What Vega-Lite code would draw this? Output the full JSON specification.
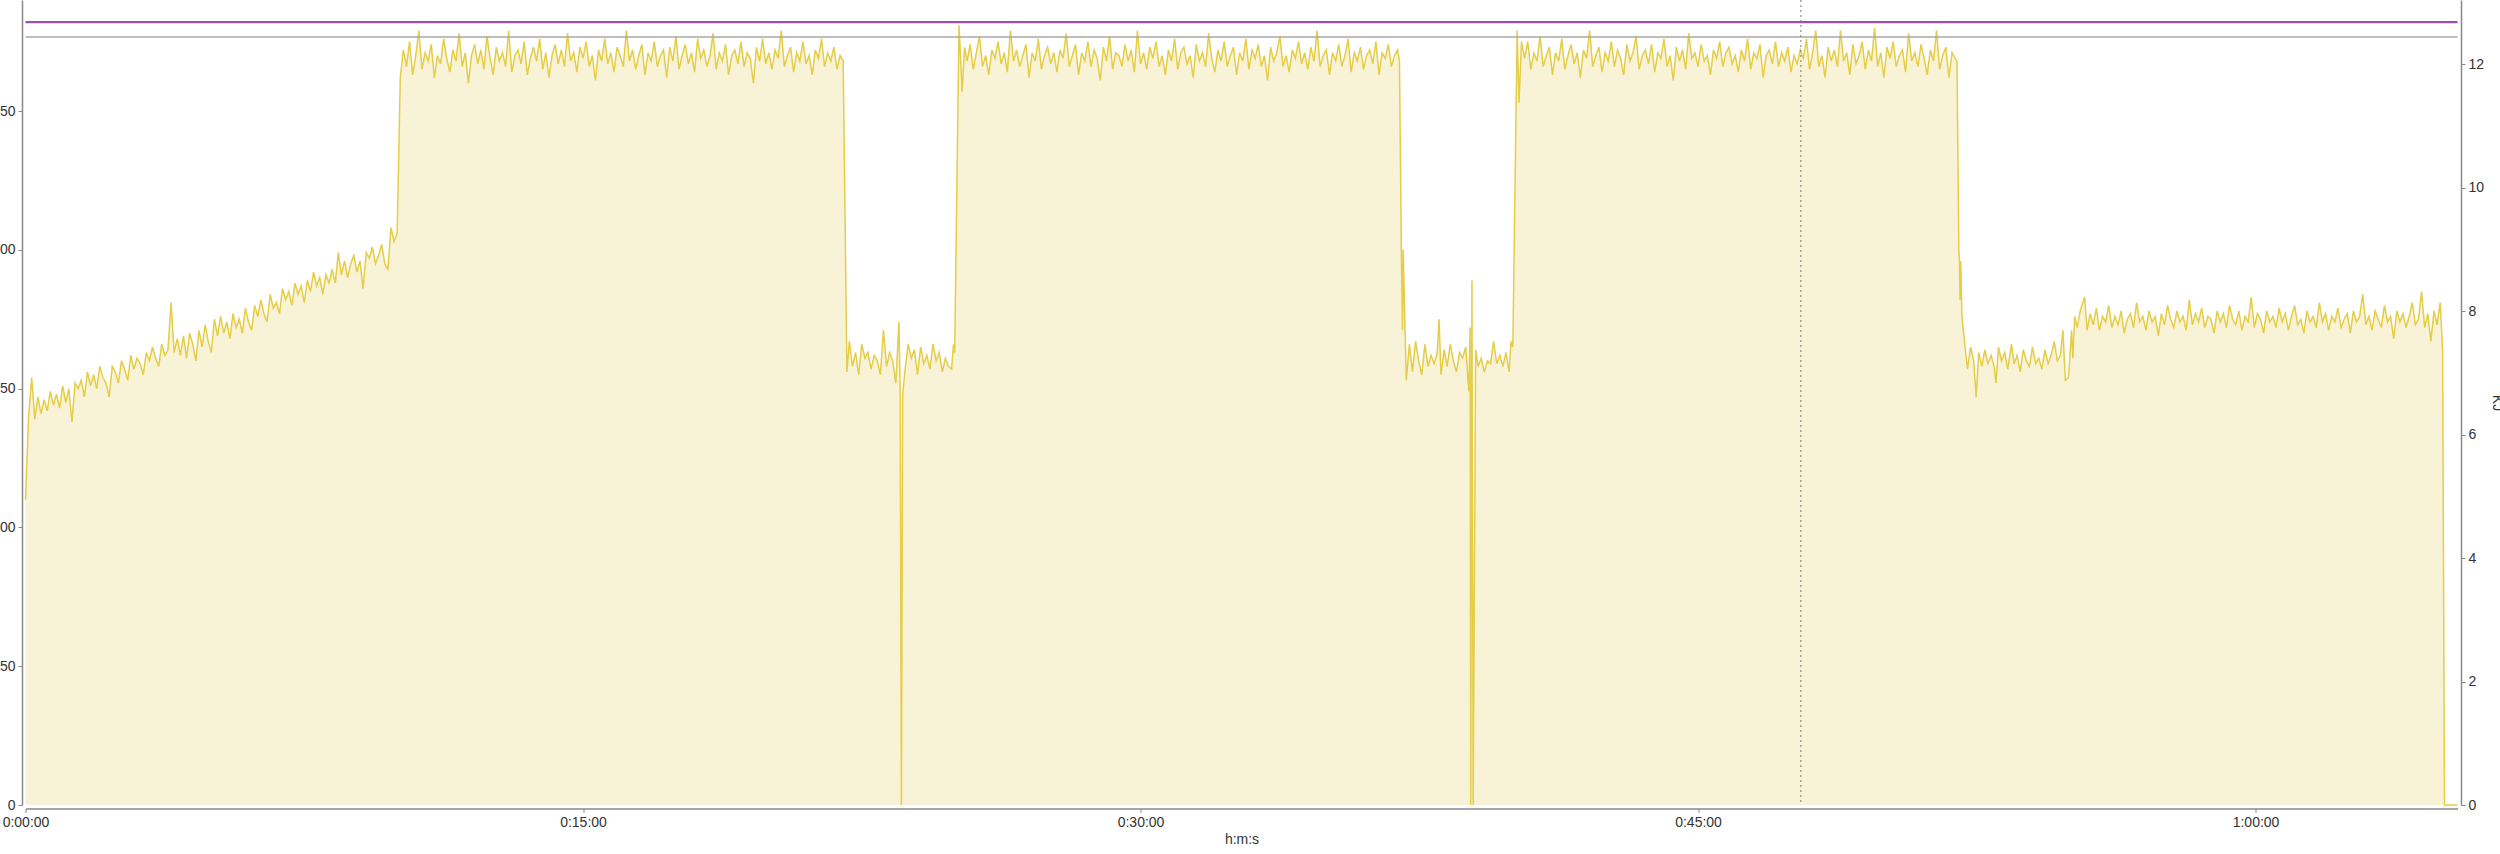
{
"$schema":"https://vega.github.io/schema/vega-lite/v6.json",
"autosize":{"type":"none"},
"width":2432,"height":805,
"padding":{"left":25.5,"top":0,"right":42.5,"bottom":49},
"background":"white",
"config":{"view":{"stroke":null},"font":"Liberation Sans","axis":{"labelFont":"Liberation Sans","titleFont":"Liberation Sans","labelFontSize":14,"titleFontSize":14,"titleFontWeight":"normal","labelColor":"#333","titleColor":"#333","domainColor":"#888","domainWidth":1.5,"tickColor":"#888","tickSize":4,"grid":false,"labelFlush":false}},
"datasets":{
"pw":[
{"t":0,"w":110},{"t":5,"w":140},{"t":10,"w":154},{"t":15,"w":139},{"t":20,"w":147},{"t":25,"w":141},{"t":30,"w":146},{"t":35,"w":142},{"t":40,"w":149},{"t":45,"w":144},
{"t":50,"w":148},{"t":55,"w":143},{"t":60,"w":151},{"t":65,"w":145},{"t":70,"w":150},{"t":75,"w":138},{"t":80,"w":152},{"t":85,"w":150},{"t":90,"w":153},{"t":95,"w":147},
{"t":100,"w":156},{"t":105,"w":151},{"t":110,"w":155},{"t":115,"w":150},{"t":120,"w":158},{"t":125,"w":154},{"t":130,"w":152},{"t":135,"w":147},{"t":140,"w":158},{"t":145,"w":156},
{"t":150,"w":152},{"t":155,"w":160},{"t":160,"w":157},{"t":165,"w":153},{"t":170,"w":162},{"t":175,"w":157},{"t":180,"w":161},{"t":185,"w":159},{"t":190,"w":155},{"t":195,"w":163},
{"t":200,"w":160},{"t":205,"w":165},{"t":210,"w":161},{"t":215,"w":158},{"t":220,"w":166},{"t":225,"w":162},{"t":230,"w":164},{"t":235,"w":181},{"t":240,"w":163},{"t":245,"w":168},
{"t":250,"w":162},{"t":255,"w":169},{"t":260,"w":161},{"t":265,"w":170},{"t":270,"w":166},{"t":275,"w":160},{"t":280,"w":171},{"t":285,"w":165},{"t":290,"w":173},{"t":295,"w":167},
{"t":300,"w":163},{"t":305,"w":175},{"t":310,"w":169},{"t":315,"w":176},{"t":320,"w":170},{"t":325,"w":174},{"t":330,"w":168},{"t":335,"w":177},{"t":340,"w":172},{"t":345,"w":175},
{"t":350,"w":170},{"t":355,"w":179},{"t":360,"w":174},{"t":365,"w":171},{"t":370,"w":180},{"t":375,"w":176},{"t":380,"w":182},{"t":385,"w":177},{"t":390,"w":174},{"t":395,"w":184},
{"t":400,"w":179},{"t":405,"w":181},{"t":410,"w":177},{"t":415,"w":186},{"t":420,"w":182},{"t":425,"w":185},{"t":430,"w":180},{"t":435,"w":188},{"t":440,"w":184},{"t":445,"w":187},
{"t":450,"w":181},{"t":455,"w":189},{"t":460,"w":185},{"t":465,"w":192},{"t":470,"w":187},{"t":475,"w":190},{"t":480,"w":184},{"t":485,"w":191},{"t":490,"w":188},{"t":495,"w":193},
{"t":500,"w":188},{"t":505,"w":199},{"t":510,"w":191},{"t":515,"w":196},{"t":520,"w":190},{"t":525,"w":195},{"t":530,"w":198},{"t":535,"w":192},{"t":540,"w":196},{"t":545,"w":186},
{"t":550,"w":199},{"t":555,"w":197},{"t":560,"w":201},{"t":565,"w":195},{"t":570,"w":198},{"t":575,"w":202},{"t":580,"w":195},{"t":585,"w":193},{"t":590,"w":208},{"t":595,"w":203},
{"t":600,"w":206},{"t":605,"w":262},
{"t":610,"w":272},{"t":615,"w":266},{"t":620,"w":275},{"t":625,"w":263},{"t":630,"w":270},{"t":635,"w":279},{"t":640,"w":265},{"t":645,"w":271},{"t":650,"w":268},{"t":655,"w":274},
{"t":660,"w":262},{"t":665,"w":270},{"t":670,"w":267},{"t":675,"w":276},{"t":680,"w":269},{"t":685,"w":264},{"t":690,"w":272},{"t":695,"w":268},{"t":700,"w":278},{"t":705,"w":266},
{"t":710,"w":271},{"t":715,"w":260},{"t":720,"w":270},{"t":725,"w":274},{"t":730,"w":267},{"t":735,"w":272},{"t":740,"w":265},{"t":745,"w":277},{"t":750,"w":269},{"t":755,"w":263},
{"t":760,"w":273},{"t":765,"w":268},{"t":770,"w":271},{"t":775,"w":266},{"t":780,"w":279},{"t":785,"w":264},{"t":790,"w":270},{"t":795,"w":272},{"t":800,"w":267},{"t":805,"w":275},
{"t":810,"w":263},{"t":815,"w":269},{"t":820,"w":273},{"t":825,"w":268},{"t":830,"w":276},{"t":835,"w":265},{"t":840,"w":271},{"t":845,"w":262},{"t":850,"w":270},{"t":855,"w":274},
{"t":860,"w":267},{"t":865,"w":272},{"t":870,"w":266},{"t":875,"w":278},{"t":880,"w":268},{"t":885,"w":271},{"t":890,"w":264},{"t":895,"w":273},{"t":900,"w":269},{"t":905,"w":275},
{"t":910,"w":266},{"t":915,"w":270},{"t":920,"w":261},{"t":925,"w":272},{"t":930,"w":268},{"t":935,"w":276},{"t":940,"w":267},{"t":945,"w":271},{"t":950,"w":264},{"t":955,"w":273},
{"t":960,"w":270},{"t":965,"w":266},{"t":970,"w":279},{"t":975,"w":268},{"t":980,"w":272},{"t":985,"w":265},{"t":990,"w":270},{"t":995,"w":274},{"t":1000,"w":263},{"t":1005,"w":271},
{"t":1010,"w":268},{"t":1015,"w":275},{"t":1020,"w":266},{"t":1025,"w":270},{"t":1030,"w":272},{"t":1035,"w":262},{"t":1040,"w":273},{"t":1045,"w":268},{"t":1050,"w":277},{"t":1055,"w":265},
{"t":1060,"w":270},{"t":1065,"w":274},{"t":1070,"w":267},{"t":1075,"w":271},{"t":1080,"w":264},{"t":1085,"w":276},{"t":1090,"w":269},{"t":1095,"w":272},{"t":1100,"w":266},{"t":1105,"w":270},
{"t":1110,"w":278},{"t":1115,"w":265},{"t":1120,"w":271},{"t":1125,"w":268},{"t":1130,"w":274},{"t":1135,"w":263},{"t":1140,"w":270},{"t":1145,"w":272},{"t":1150,"w":267},{"t":1155,"w":275},
{"t":1160,"w":266},{"t":1165,"w":271},{"t":1170,"w":269},{"t":1175,"w":260},{"t":1180,"w":273},{"t":1185,"w":268},{"t":1190,"w":276},{"t":1195,"w":267},{"t":1200,"w":271},{"t":1205,"w":265},
{"t":1210,"w":272},{"t":1215,"w":269},{"t":1220,"w":279},{"t":1225,"w":266},{"t":1230,"w":270},{"t":1235,"w":273},{"t":1240,"w":264},{"t":1245,"w":271},{"t":1250,"w":268},{"t":1255,"w":275},
{"t":1260,"w":267},{"t":1265,"w":270},{"t":1270,"w":263},{"t":1275,"w":272},{"t":1280,"w":269},{"t":1285,"w":276},{"t":1290,"w":266},{"t":1295,"w":271},{"t":1300,"w":268},{"t":1305,"w":273},
{"t":1310,"w":265},{"t":1315,"w":270},{"t":1320,"w":268},
{"t":1326,"w":156},{"t":1330,"w":167},{"t":1335,"w":158},{"t":1340,"w":163},{"t":1345,"w":155},{"t":1350,"w":166},{"t":1355,"w":161},{"t":1360,"w":163},{"t":1365,"w":157},{"t":1370,"w":162},
{"t":1375,"w":160},{"t":1380,"w":155},{"t":1385,"w":171},{"t":1390,"w":158},{"t":1395,"w":163},{"t":1400,"w":160},{"t":1405,"w":152},{"t":1410,"w":174},{"t":1412,"w":149},{"t":1414,"w":0},
{"t":1416,"w":148},{"t":1420,"w":157},{"t":1425,"w":166},{"t":1430,"w":161},{"t":1435,"w":164},{"t":1440,"w":155},{"t":1445,"w":165},{"t":1450,"w":159},{"t":1455,"w":162},{"t":1460,"w":157},
{"t":1465,"w":166},{"t":1470,"w":160},{"t":1475,"w":163},{"t":1480,"w":156},{"t":1485,"w":161},{"t":1490,"w":158},{"t":1495,"w":157},{"t":1498,"w":166},{"t":1500,"w":163},{"t":1507,"w":281},
{"t":1512,"w":257},{"t":1516,"w":273},
{"t":1520,"w":268},{"t":1525,"w":274},{"t":1530,"w":265},{"t":1535,"w":271},{"t":1540,"w":277},{"t":1545,"w":266},{"t":1550,"w":270},{"t":1555,"w":263},{"t":1560,"w":272},{"t":1565,"w":269},
{"t":1570,"w":275},{"t":1575,"w":267},{"t":1580,"w":271},{"t":1585,"w":264},{"t":1590,"w":279},{"t":1595,"w":268},{"t":1600,"w":272},{"t":1605,"w":266},{"t":1610,"w":270},{"t":1615,"w":274},
{"t":1620,"w":262},{"t":1625,"w":271},{"t":1630,"w":268},{"t":1635,"w":276},{"t":1640,"w":265},{"t":1645,"w":270},{"t":1650,"w":273},{"t":1655,"w":267},{"t":1660,"w":271},{"t":1665,"w":264},
{"t":1670,"w":272},{"t":1675,"w":269},{"t":1680,"w":278},{"t":1685,"w":266},{"t":1690,"w":270},{"t":1695,"w":274},{"t":1700,"w":263},{"t":1705,"w":271},{"t":1710,"w":268},{"t":1715,"w":275},
{"t":1720,"w":266},{"t":1725,"w":272},{"t":1730,"w":269},{"t":1735,"w":261},{"t":1740,"w":273},{"t":1745,"w":268},{"t":1750,"w":277},{"t":1755,"w":265},{"t":1760,"w":271},{"t":1765,"w":270},
{"t":1770,"w":266},{"t":1775,"w":274},{"t":1780,"w":268},{"t":1785,"w":272},{"t":1790,"w":264},{"t":1795,"w":279},{"t":1800,"w":267},{"t":1805,"w":271},{"t":1810,"w":265},{"t":1815,"w":273},
{"t":1820,"w":269},{"t":1825,"w":275},{"t":1830,"w":266},{"t":1835,"w":270},{"t":1840,"w":263},{"t":1845,"w":272},{"t":1850,"w":268},{"t":1855,"w":276},{"t":1860,"w":265},{"t":1865,"w":271},
{"t":1870,"w":273},{"t":1875,"w":267},{"t":1880,"w":270},{"t":1885,"w":262},{"t":1890,"w":274},{"t":1895,"w":268},{"t":1900,"w":271},{"t":1905,"w":266},{"t":1910,"w":278},{"t":1915,"w":269},
{"t":1920,"w":264},{"t":1925,"w":272},{"t":1930,"w":268},{"t":1935,"w":275},{"t":1940,"w":266},{"t":1945,"w":270},{"t":1950,"w":273},{"t":1955,"w":263},{"t":1960,"w":271},{"t":1965,"w":268},
{"t":1970,"w":276},{"t":1975,"w":265},{"t":1980,"w":272},{"t":1985,"w":269},{"t":1990,"w":274},{"t":1995,"w":266},{"t":2000,"w":270},{"t":2005,"w":261},{"t":2010,"w":273},{"t":2015,"w":268},
{"t":2020,"w":271},{"t":2025,"w":277},{"t":2030,"w":266},{"t":2035,"w":270},{"t":2040,"w":264},{"t":2045,"w":272},{"t":2050,"w":269},{"t":2055,"w":275},{"t":2060,"w":267},{"t":2065,"w":271},
{"t":2070,"w":265},{"t":2075,"w":273},{"t":2080,"w":268},{"t":2085,"w":279},{"t":2090,"w":266},{"t":2095,"w":270},{"t":2100,"w":272},{"t":2105,"w":263},{"t":2110,"w":271},{"t":2115,"w":268},
{"t":2120,"w":274},{"t":2125,"w":266},{"t":2130,"w":270},{"t":2135,"w":276},{"t":2140,"w":264},{"t":2145,"w":271},{"t":2150,"w":268},{"t":2155,"w":273},{"t":2160,"w":265},{"t":2165,"w":270},
{"t":2170,"w":272},{"t":2175,"w":267},{"t":2180,"w":275},{"t":2185,"w":263},{"t":2190,"w":271},{"t":2195,"w":269},{"t":2200,"w":274},{"t":2205,"w":266},{"t":2210,"w":270},{"t":2215,"w":272},
{"t":2218,"w":268},{"t":2221,"w":200},{"t":2223,"w":171},{"t":2224,"w":200},{"t":2229,"w":153},
{"t":2234,"w":166},{"t":2239,"w":156},{"t":2244,"w":167},{"t":2249,"w":160},{"t":2254,"w":155},{"t":2259,"w":166},{"t":2264,"w":158},{"t":2269,"w":162},{"t":2274,"w":159},{"t":2279,"w":163},
{"t":2282,"w":175},{"t":2285,"w":155},{"t":2290,"w":164},{"t":2295,"w":158},{"t":2300,"w":166},{"t":2305,"w":160},{"t":2310,"w":156},{"t":2315,"w":163},{"t":2320,"w":161},{"t":2325,"w":165},
{"t":2330,"w":149},{"t":2332,"w":172},{"t":2333,"w":0},{"t":2335,"w":189},{"t":2337,"w":0},{"t":2341,"w":164},{"t":2345,"w":158},{"t":2350,"w":161},{"t":2355,"w":156},{"t":2360,"w":160},
{"t":2365,"w":159},{"t":2370,"w":167},{"t":2375,"w":159},{"t":2380,"w":162},{"t":2385,"w":158},{"t":2390,"w":163},{"t":2395,"w":156},{"t":2398,"w":167},{"t":2401,"w":165},{"t":2408,"w":279},
{"t":2411,"w":253},{"t":2415,"w":275},
{"t":2420,"w":269},{"t":2425,"w":275},{"t":2430,"w":265},{"t":2435,"w":271},{"t":2440,"w":268},{"t":2445,"w":277},{"t":2450,"w":266},{"t":2455,"w":270},{"t":2460,"w":273},{"t":2465,"w":263},
{"t":2470,"w":271},{"t":2475,"w":268},{"t":2480,"w":276},{"t":2485,"w":265},{"t":2490,"w":270},{"t":2495,"w":274},{"t":2500,"w":267},{"t":2505,"w":271},{"t":2510,"w":262},{"t":2515,"w":272},
{"t":2520,"w":269},{"t":2525,"w":279},{"t":2530,"w":266},{"t":2535,"w":270},{"t":2540,"w":273},{"t":2545,"w":264},{"t":2550,"w":271},{"t":2555,"w":268},{"t":2560,"w":275},{"t":2565,"w":266},
{"t":2570,"w":272},{"t":2575,"w":269},{"t":2580,"w":263},{"t":2585,"w":274},{"t":2590,"w":268},{"t":2595,"w":271},{"t":2600,"w":277},{"t":2605,"w":265},{"t":2610,"w":270},{"t":2615,"w":272},
{"t":2620,"w":267},{"t":2625,"w":274},{"t":2630,"w":264},{"t":2635,"w":271},{"t":2640,"w":269},{"t":2645,"w":276},{"t":2650,"w":266},{"t":2655,"w":270},{"t":2660,"w":261},{"t":2665,"w":273},
{"t":2670,"w":268},{"t":2675,"w":272},{"t":2680,"w":265},{"t":2685,"w":278},{"t":2690,"w":269},{"t":2695,"w":271},{"t":2700,"w":266},{"t":2705,"w":274},{"t":2710,"w":268},{"t":2715,"w":270},
{"t":2720,"w":263},{"t":2725,"w":272},{"t":2730,"w":269},{"t":2735,"w":275},{"t":2740,"w":266},{"t":2745,"w":271},{"t":2750,"w":273},{"t":2755,"w":267},{"t":2760,"w":270},{"t":2765,"w":264},
{"t":2770,"w":272},{"t":2775,"w":268},{"t":2780,"w":276},{"t":2785,"w":265},{"t":2790,"w":271},{"t":2795,"w":269},{"t":2800,"w":274},{"t":2805,"w":262},{"t":2810,"w":270},{"t":2815,"w":272},
{"t":2820,"w":267},{"t":2825,"w":275},{"t":2830,"w":266},{"t":2835,"w":271},{"t":2840,"w":268},{"t":2845,"w":273},{"t":2850,"w":264},{"t":2855,"w":270},{"t":2860,"w":267},{"t":2865,"w":272},
{"t":2870,"w":269},{"t":2875,"w":276},{"t":2880,"w":265},{"t":2885,"w":271},{"t":2890,"w":279},{"t":2895,"w":266},{"t":2900,"w":270},{"t":2905,"w":262},{"t":2910,"w":273},{"t":2915,"w":268},
{"t":2920,"w":272},{"t":2925,"w":266},{"t":2930,"w":279},{"t":2935,"w":268},{"t":2940,"w":271},{"t":2945,"w":263},{"t":2950,"w":274},{"t":2955,"w":267},{"t":2960,"w":270},{"t":2965,"w":275},
{"t":2970,"w":265},{"t":2975,"w":272},{"t":2980,"w":268},{"t":2985,"w":280},{"t":2990,"w":266},{"t":2995,"w":271},{"t":3000,"w":262},{"t":3005,"w":273},{"t":3010,"w":269},{"t":3015,"w":275},
{"t":3020,"w":266},{"t":3025,"w":270},{"t":3030,"w":272},{"t":3035,"w":264},{"t":3040,"w":278},{"t":3045,"w":268},{"t":3050,"w":271},{"t":3055,"w":266},{"t":3060,"w":274},{"t":3065,"w":269},
{"t":3070,"w":263},{"t":3075,"w":272},{"t":3080,"w":268},{"t":3085,"w":279},{"t":3090,"w":265},{"t":3095,"w":270},{"t":3100,"w":273},{"t":3105,"w":262},{"t":3110,"w":271},{"t":3115,"w":269},
{"t":3118,"w":268},{"t":3121,"w":200},{"t":3122,"w":196},{"t":3123,"w":182},{"t":3124,"w":196},{"t":3126,"w":176},{"t":3131,"w":165},
{"t":3135,"w":157},{"t":3140,"w":165},{"t":3145,"w":160},{"t":3149,"w":147},{"t":3153,"w":163},{"t":3158,"w":158},{"t":3163,"w":164},{"t":3168,"w":159},{"t":3173,"w":162},{"t":3178,"w":158},
{"t":3181,"w":152},{"t":3185,"w":165},{"t":3190,"w":160},{"t":3195,"w":163},{"t":3200,"w":157},{"t":3206,"w":166},{"t":3210,"w":159},{"t":3215,"w":162},{"t":3220,"w":156},{"t":3225,"w":164},
{"t":3230,"w":160},{"t":3235,"w":158},{"t":3240,"w":165},{"t":3245,"w":159},{"t":3250,"w":161},{"t":3255,"w":157},{"t":3260,"w":164},{"t":3265,"w":159},{"t":3270,"w":162},{"t":3275,"w":167},
{"t":3280,"w":160},{"t":3285,"w":162},{"t":3289,"w":171},{"t":3293,"w":153},{"t":3298,"w":154},{"t":3303,"w":171},{"t":3305,"w":161},{"t":3308,"w":176},{"t":3312,"w":172},{"t":3317,"w":178},
{"t":3324,"w":183},{"t":3328,"w":171},
{"t":3333,"w":177},{"t":3338,"w":173},{"t":3343,"w":179},{"t":3348,"w":171},{"t":3353,"w":176},{"t":3358,"w":174},{"t":3363,"w":180},{"t":3368,"w":172},{"t":3373,"w":176},{"t":3378,"w":173},
{"t":3383,"w":178},{"t":3388,"w":170},{"t":3393,"w":175},{"t":3398,"w":177},{"t":3403,"w":172},{"t":3408,"w":181},{"t":3413,"w":174},{"t":3418,"w":176},{"t":3423,"w":171},{"t":3428,"w":178},
{"t":3433,"w":174},{"t":3438,"w":176},{"t":3443,"w":169},{"t":3448,"w":177},{"t":3453,"w":173},{"t":3458,"w":180},{"t":3463,"w":175},{"t":3468,"w":172},{"t":3473,"w":178},{"t":3478,"w":174},
{"t":3483,"w":176},{"t":3488,"w":171},{"t":3493,"w":182},{"t":3498,"w":173},{"t":3503,"w":177},{"t":3508,"w":174},{"t":3513,"w":179},{"t":3518,"w":172},{"t":3523,"w":176},{"t":3528,"w":175},
{"t":3533,"w":170},{"t":3538,"w":178},{"t":3543,"w":174},{"t":3548,"w":177},{"t":3553,"w":172},{"t":3558,"w":180},{"t":3563,"w":175},{"t":3568,"w":173},{"t":3573,"w":178},{"t":3578,"w":171},
{"t":3583,"w":176},{"t":3588,"w":174},{"t":3593,"w":183},{"t":3598,"w":172},{"t":3603,"w":177},{"t":3608,"w":175},{"t":3613,"w":170},{"t":3618,"w":178},{"t":3623,"w":174},{"t":3628,"w":176},
{"t":3633,"w":172},{"t":3638,"w":179},{"t":3643,"w":174},{"t":3648,"w":177},{"t":3653,"w":171},{"t":3658,"w":176},{"t":3663,"w":180},{"t":3668,"w":173},{"t":3673,"w":175},{"t":3678,"w":170},
{"t":3683,"w":178},{"t":3688,"w":174},{"t":3693,"w":176},{"t":3698,"w":172},{"t":3703,"w":181},{"t":3708,"w":174},{"t":3713,"w":177},{"t":3718,"w":171},{"t":3723,"w":176},{"t":3728,"w":174},
{"t":3733,"w":179},{"t":3738,"w":172},{"t":3743,"w":175},{"t":3748,"w":177},{"t":3753,"w":170},{"t":3758,"w":178},{"t":3763,"w":174},{"t":3768,"w":176},{"t":3773,"w":184},{"t":3778,"w":173},
{"t":3783,"w":176},{"t":3788,"w":171},{"t":3793,"w":178},{"t":3798,"w":175},{"t":3803,"w":172},{"t":3808,"w":180},{"t":3813,"w":174},{"t":3818,"w":176},{"t":3823,"w":168},{"t":3828,"w":178},
{"t":3833,"w":174},{"t":3838,"w":177},{"t":3843,"w":172},{"t":3848,"w":176},{"t":3853,"w":181},{"t":3858,"w":173},{"t":3863,"w":175},{"t":3868,"w":185},{"t":3873,"w":172},{"t":3878,"w":177},
{"t":3883,"w":167},{"t":3888,"w":178},{"t":3893,"w":173},{"t":3898,"w":181},{"t":3902,"w":164},{"t":3905,"w":0},{"t":3926,"w":0}
],
"hlines":[{"name":"upper","w":282},{"name":"lower","w":276.7}],
"marker":[{"t":2866}],
"kjaxis":[{"kj":0}]
},
"layer":[
{"layer":[
{"data":{"name":"pw"},
 "mark":{"type":"area","fill":"#f8f3d6","opacity":1,"line":{"color":"#e5cd48","strokeWidth":1.5}},
 "encoding":{
  "x":{"field":"t","type":"quantitative","scale":{"domain":[0,3926],"nice":false,"zero":false},
       "axis":{"title":"h:m:s","values":[0,900,1800,2700,3600],"offset":3.5,"labelPadding":3,"titlePadding":3,"labelFlush":false,"labelBound":false,
         "labelExpr":"floor(datum.value/3600) + ':' + (floor(datum.value/60)%60 < 10 ? '0' : '') + (floor(datum.value/60)%60) + ':' + (datum.value%60 < 10 ? '0' : '') + (datum.value%60)"}},
  "y":{"field":"w","type":"quantitative","scale":{"domain":[0,290],"nice":false},
       "axis":{"title":null,"values":[0,50,100,150,200,250],"offset":3.5,"labelPadding":3}}}},
{"data":{"name":"hlines"},
 "mark":{"type":"rule"},
 "encoding":{
  "y":{"field":"w","type":"quantitative"},
  "color":{"field":"name","type":"nominal","scale":{"domain":["upper","lower"],"range":["#9a4db3","#a8a8a8"]},"legend":null},
  "strokeWidth":{"field":"name","type":"nominal","scale":{"domain":["upper","lower"],"range":[2.2,1.5]},"legend":null}}},
{"data":{"name":"marker"},
 "mark":{"type":"rule","color":"#777","strokeWidth":1,"strokeDash":[2,3]},
 "encoding":{"x":{"field":"t","type":"quantitative"}}}
]},
{"data":{"name":"kjaxis"},
 "mark":{"type":"rule","opacity":0},
 "encoding":{
  "y":{"field":"kj","type":"quantitative","scale":{"domain":[0,13.04],"nice":false},
       "axis":{"orient":"right","title":"KJ","values":[0,2,4,6,8,10,12],"offset":3.5,"labelPadding":3,"titlePadding":6}}}}
],
"resolve":{"scale":{"y":"independent"},"axis":{"y":"independent"}}
}
